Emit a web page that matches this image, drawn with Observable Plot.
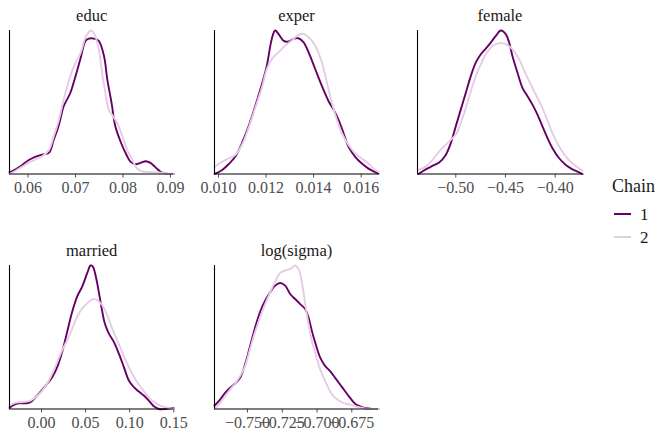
<!DOCTYPE html>
<html>
<head>
<meta charset="utf-8">
<script src="https://cdn.jsdelivr.net/npm/d3@7"></script>
<script src="https://cdn.jsdelivr.net/npm/@observablehq/plot@0.6"></script>
<style>
  body { margin: 0; background: #fff; }
  #chart { position: relative; width: 658px; height: 430px; overflow: hidden; background: #fff; font-family: "Liberation Serif", "Times New Roman", serif; }
  #chart .panel { position: absolute; }
  .leg-title { position: absolute; font-size: 18px; color: #1a1a1a; line-height: 1; transform: translateY(-50%); }
  .leg-line { position: absolute; width: 17px; height: 0; }
  .leg-label { position: absolute; font-size: 17px; color: #1a1a1a; line-height: 1; transform: translateY(-50%); }
</style>
</head>
<body>
<div id="chart"></div>
<script>
// ---- data (x = parameter value, d = density estimate) ----
const chains = ["1", "2"];
const chainColors = ["#660066", "#e5cce5"];
const params = ["educ", "exper", "female", "married", "log(sigma)"];

const educ1 = [[0.0561,1.0],[0.0573,2.6],[0.0587,5.2],[0.0601,8.2],[0.0615,10.2],[0.0630,11.6],[0.0644,12.6],[0.0654,20.2],[0.0665,29.2],[0.0675,40.2],[0.0689,48.2],[0.0700,58.2],[0.0711,69.2],[0.0721,79.2],[0.0728,80.6],[0.0739,80.6],[0.0749,79.2],[0.0760,70.2],[0.0767,56.2],[0.0776,42.2],[0.0784,28.2],[0.0795,19.2],[0.0806,12.2],[0.0816,7.2],[0.0827,5.8],[0.0837,6.6],[0.0848,7.6],[0.0858,6.6],[0.0869,3.8],[0.0880,1.2],[0.0890,0.2],[0.0907,0]];
const educ2 = [[0.0561,0],[0.0573,1.8],[0.0587,4.2],[0.0601,6.6],[0.0615,8.6],[0.0630,10.6],[0.0644,14.2],[0.0654,22.2],[0.0665,32.2],[0.0675,44.2],[0.0689,58.2],[0.0700,66.2],[0.0711,72.2],[0.0721,81.2],[0.0732,85.4],[0.0739,83.8],[0.0749,74.2],[0.0756,60.2],[0.0763,48.2],[0.0770,38.2],[0.0777,35.2],[0.0788,30.2],[0.0799,22.2],[0.0809,14.2],[0.0820,8.2],[0.0830,3.2],[0.0841,1.6],[0.0855,1.2],[0.0869,1.0],[0.0883,0.6],[0.0897,0],[0.0907,0]];

const exper1 = [[0.00983,0],[0.01014,8.8],[0.01042,23.2],[0.01070,40.8],[0.01098,72.8],[0.01126,112.8],[0.01154,160.8],[0.01182,212.8],[0.01203,256.8],[0.01224,320.8],[0.01238,340.8],[0.01252,332.8],[0.01273,316.8],[0.01294,314.4],[0.01315,320.8],[0.01336,322.4],[0.01358,312.8],[0.01379,288.8],[0.01407,248.8],[0.01435,208.8],[0.01463,172.8],[0.01484,152.8],[0.01505,128.8],[0.01526,96.8],[0.01547,64.8],[0.01575,40.8],[0.01603,24.8],[0.01631,12.8],[0.01652,6.4],[0.01673,0.8]];
const exper2 = [[0.00983,16.8],[0.01014,28.8],[0.01042,36.8],[0.01070,44.8],[0.01098,68.8],[0.01126,108.8],[0.01154,156.8],[0.01182,204.8],[0.01203,248.8],[0.01224,272.8],[0.01252,288.8],[0.01280,304.8],[0.01308,316.8],[0.01336,330.4],[0.01358,332.8],[0.01379,324.8],[0.01407,304.8],[0.01435,264.8],[0.01456,216.8],[0.01477,168.8],[0.01498,128.8],[0.01519,96.8],[0.01547,68.8],[0.01575,48.8],[0.01603,36.8],[0.01631,24.8],[0.01652,12.8],[0.01673,4.8]];

const female1 = [[-0.5376,0],[-0.5302,0.56],[-0.5235,0.96],[-0.5168,1.36],[-0.5101,2.28],[-0.5050,3.68],[-0.5000,5.68],[-0.4950,7.68],[-0.4899,9.68],[-0.4849,11.68],[-0.4799,13.28],[-0.4748,14.28],[-0.4698,14.96],[-0.4648,15.68],[-0.4597,16.48],[-0.4547,17.12],[-0.4497,16.68],[-0.4463,15.68],[-0.4430,14.08],[-0.4379,12.08],[-0.4329,10.28],[-0.4278,9.28],[-0.4228,8.28],[-0.4178,7.08],[-0.4128,5.68],[-0.4077,4.28],[-0.4027,3.08],[-0.3960,1.88],[-0.3893,1.08],[-0.3825,0.56],[-0.3775,0.28],[-0.3725,0]];
const female2 = [[-0.5376,0.48],[-0.5302,0.88],[-0.5235,1.68],[-0.5168,2.68],[-0.5101,3.48],[-0.5050,4.08],[-0.5000,4.68],[-0.4950,6.08],[-0.4899,7.88],[-0.4849,9.88],[-0.4799,11.68],[-0.4748,13.08],[-0.4698,14.28],[-0.4631,15.28],[-0.4564,15.6],[-0.4497,15.48],[-0.4430,14.88],[-0.4362,13.68],[-0.4295,11.88],[-0.4245,10.68],[-0.4195,9.48],[-0.4144,8.28],[-0.4094,6.88],[-0.4027,4.88],[-0.3960,3.28],[-0.3893,2.08],[-0.3825,1.28],[-0.3775,0.8],[-0.3725,0.4]];

const married1 = [[-0.0363,0.09],[-0.0314,0.36],[-0.0257,0.51],[-0.0181,0.51],[-0.0125,0.6],[-0.0068,1.05],[0,1.65],[0.0064,2.25],[0.0121,2.85],[0.0178,3.75],[0.0234,5.1],[0.0291,6.9],[0.0348,8.7],[0.0404,10.05],[0.0461,10.95],[0.0518,12.15],[0.0556,12.84],[0.0582,12.75],[0.0620,11.7],[0.0669,9.6],[0.0718,7.65],[0.0764,6.75],[0.0820,6.0],[0.0877,4.95],[0.0934,3.75],[0.0990,2.55],[0.1047,1.95],[0.1104,1.56],[0.1160,1.2],[0.1217,0.75],[0.1274,0.24],[0.1331,0],[0.1406,0],[0.1463,0.06],[0.1500,0.06]];
const married2 = [[-0.0363,0.3],[-0.0314,0.51],[-0.0257,0.6],[-0.0181,0.66],[-0.0125,0.75],[-0.0068,1.05],[0,1.56],[0.0064,2.25],[0.0121,3.15],[0.0178,4.2],[0.0234,5.25],[0.0291,6.15],[0.0348,7.2],[0.0404,8.25],[0.0461,9.0],[0.0518,9.45],[0.0575,9.81],[0.0631,9.75],[0.0688,9.3],[0.0745,8.4],[0.0801,7.2],[0.0858,6.15],[0.0915,5.1],[0.0971,4.05],[0.1028,3.15],[0.1085,2.4],[0.1142,1.8],[0.1198,1.2],[0.1255,0.75],[0.1312,0.45],[0.1368,0.24],[0.1425,0.12],[0.1500,0]];

const logsigma1 = [[-0.7737,0.5],[-0.7697,1.4],[-0.7661,2.4],[-0.7625,3.15],[-0.7589,3.8],[-0.7553,4.65],[-0.7517,6.65],[-0.7481,9.4],[-0.7445,12.15],[-0.7409,14.5],[-0.7373,16.15],[-0.7337,17.4],[-0.7301,18.4],[-0.7265,18.8],[-0.7229,18.4],[-0.7193,17.15],[-0.7157,16.4],[-0.7121,15.65],[-0.7085,14.9],[-0.7061,13.65],[-0.7037,11.65],[-0.7013,9.9],[-0.6977,7.65],[-0.6941,6.4],[-0.6906,5.65],[-0.6870,4.65],[-0.6834,3.65],[-0.6798,2.65],[-0.6762,1.65],[-0.6726,0.8],[-0.6690,0.4],[-0.6654,0.15],[-0.6606,0],[-0.6558,0]];
const logsigma2 = [[-0.7737,0],[-0.7697,0.9],[-0.7661,1.9],[-0.7625,2.9],[-0.7589,3.8],[-0.7553,4.9],[-0.7517,6.4],[-0.7481,9.0],[-0.7445,11.5],[-0.7409,13.65],[-0.7373,15.65],[-0.7337,17.4],[-0.7301,19.0],[-0.7265,20.3],[-0.7229,20.65],[-0.7193,20.9],[-0.7157,21.4],[-0.7133,20.9],[-0.7109,18.9],[-0.7085,15.65],[-0.7061,12.65],[-0.7037,10.15],[-0.7013,8.4],[-0.6977,5.9],[-0.6941,4.15],[-0.6906,2.65],[-0.6870,1.65],[-0.6834,1.15],[-0.6798,0.8],[-0.6762,0.65],[-0.6726,0.4],[-0.6690,0.25],[-0.6654,0.1],[-0.6606,0],[-0.6558,0]];

// tick values and x-axis domains
const educTicks = [0.06, 0.07, 0.08, 0.09];
const experTicks = [0.010, 0.012, 0.014, 0.016];
const femaleTicks = [-0.50, -0.45, -0.40];
const marriedTicks = [0.00, 0.05, 0.10, 0.15];
const logsigmaTicks = [-0.750, -0.725, -0.700, -0.675];

const educDomain = [0.0561, 0.0907];
const experDomain = [0.00983, 0.01673];
const femaleDomain = [-0.5385, -0.3725];
const marriedDomain = [-0.0363, 0.150];
const logsigmaDomain = [-0.7737, -0.6558];

// ---- drawing ----
const chart = document.getElementById("chart");
const serif = "'Liberation Serif', 'Times New Roman', serif";
const mL = 30, mR = 30, mT = 30;

function panel(title, c1, c2, ticks, fmt, domain, plotLeft, plotW, svgTop, plotH, mB) {
  const data = [
    ...c1.map(([x, d]) => ({x, d, chain: chains[0]})),
    ...c2.map(([x, d]) => ({x, d, chain: chains[1]}))
  ];
  const ymax = d3.max(data, (r) => r.d);
  const svg = Plot.plot({
    width: plotW + mL + mR,
    height: mT + plotH + mB,
    marginLeft: mL, marginRight: mR, marginTop: mT, marginBottom: mB,
    style: {background: "transparent", overflow: "visible", fontFamily: serif},
    x: {type: "linear", domain, axis: null},
    y: {domain: [0, ymax], axis: null},
    color: {domain: chains, range: chainColors},
    marks: [
      Plot.line(data, {x: "x", y: "d", z: "chain", stroke: "chain", strokeWidth: 1.9, curve: "catmull-rom"}),
      Plot.ruleX([domain[0]], {stroke: "#000", strokeWidth: 1.1}),
      Plot.ruleY([0], {stroke: "#000", strokeWidth: 1.1}),
      Plot.axisX({ticks, tickFormat: d3.format(fmt), tickSize: 4, tickPadding: 4, fontSize: 16, fontFamily: serif, color: "#4d4d4d", label: null}),
      Plot.text([title], {text: (t) => t, frameAnchor: "top", lineAnchor: "middle", dy: -15, fontSize: 16.5, fontFamily: serif, fill: "#1a1a1a"})
    ]
  });
  // make sure every label uses the serif face; tick labels at 16px
  svg.querySelectorAll("text").forEach((t) => {
    t.style.fontFamily = serif;
    t.style.fontVariant = "normal";
    if (t.textContent !== title) t.style.fontSize = "16px";
  });
  svg.classList.add("panel");
  svg.style.left = (plotLeft - mL) + "px";
  svg.style.top = svgTop + "px";
  chart.appendChild(svg);
}

panel(params[0], educ1, educ2, educTicks, ".2f", educDomain, 9, 164.3, 0, 143.5, 30);
panel(params[1], exper1, exper2, experTicks, ".3f", experDomain, 214, 164, 0, 143.5, 30);
panel(params[2], female1, female2, femaleTicks, ".2f", femaleDomain, 417, 165, 0, 143.5, 30);
panel(params[3], married1, married2, marriedTicks, ".2f", marriedDomain, 9, 164.3, 235, 143.5, 22);
panel(params[4], logsigma1, logsigma2, logsigmaTicks, ".3f", logsigmaDomain, 214, 164, 235, 143.5, 22);

// legend
const lt = document.createElement("div");
lt.className = "leg-title";
lt.textContent = "Chain";
lt.style.left = "612px"; lt.style.top = "186px";
chart.appendChild(lt);
const legY = [214, 237];
chains.forEach((c, i) => {
  const ln = document.createElement("div");
  ln.className = "leg-line";
  ln.style.left = "614px"; ln.style.top = (legY[i] - 1) + "px";
  ln.style.borderTop = "2px solid " + chainColors[i];
  chart.appendChild(ln);
  const lb = document.createElement("div");
  lb.className = "leg-label";
  lb.textContent = c;
  lb.style.left = "640px"; lb.style.top = legY[i] + "px";
  chart.appendChild(lb);
});
</script>
</body>
</html>
